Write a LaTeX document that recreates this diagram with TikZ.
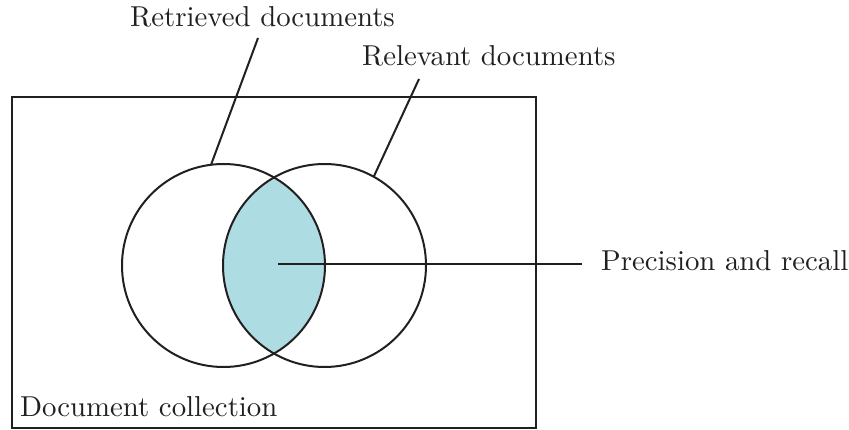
\documentclass[tikz,border=0pt]{standalone}
\definecolor{ink}{HTML}{231F20}
\definecolor{lens}{HTML}{ADDDE2}
\font\lblfont="[lmroman10-regular]:mapping=tex-text" at 28.8pt
\tikzset{
  ln/.style={draw=ink, line width=2pt},
  lbl/.style={anchor=base west, inner sep=0pt, text=ink, font=\lblfont},
  venn/.style={circle, minimum size=203pt, inner sep=0pt}
}
\begin{document}
\begin{tikzpicture}[x=1pt,y=-1pt]
\useasboundingbox (0,0) rectangle (849,430);
\node[venn] (L) at (223.5,265.5) {};
\node[venn] (R) at (324.5,265.5) {};
\begin{scope}
  \clip (223.5,265.5) circle (101.5pt);
  \fill[lens] (324.5,265.5) circle (101.5pt);
\end{scope}
\draw[ln] (12,97) rectangle (536,428);
\node[ln, venn, draw] at (L) {};
\node[ln, venn, draw] at (R) {};
\node[lbl] (ret) at (130,27) {Retrieved documents};
\node[lbl] (rel) at (362,66) {Relevant documents};
\node[lbl] (pr) at (601,271) {Precision and recall};
\node[lbl] (dc) at (20,417) {Document collection};
\coordinate (rt) at (258,38);
\coordinate (vt) at (419,79);
\coordinate (pc) at (278,264);
\coordinate (pe) at (582,264);
\draw[ln] (rt) -- (L.97);
\draw[ln] (vt) -- (R.61);
\draw[ln] (pc) -- (pe);
\end{tikzpicture}
\end{document}
